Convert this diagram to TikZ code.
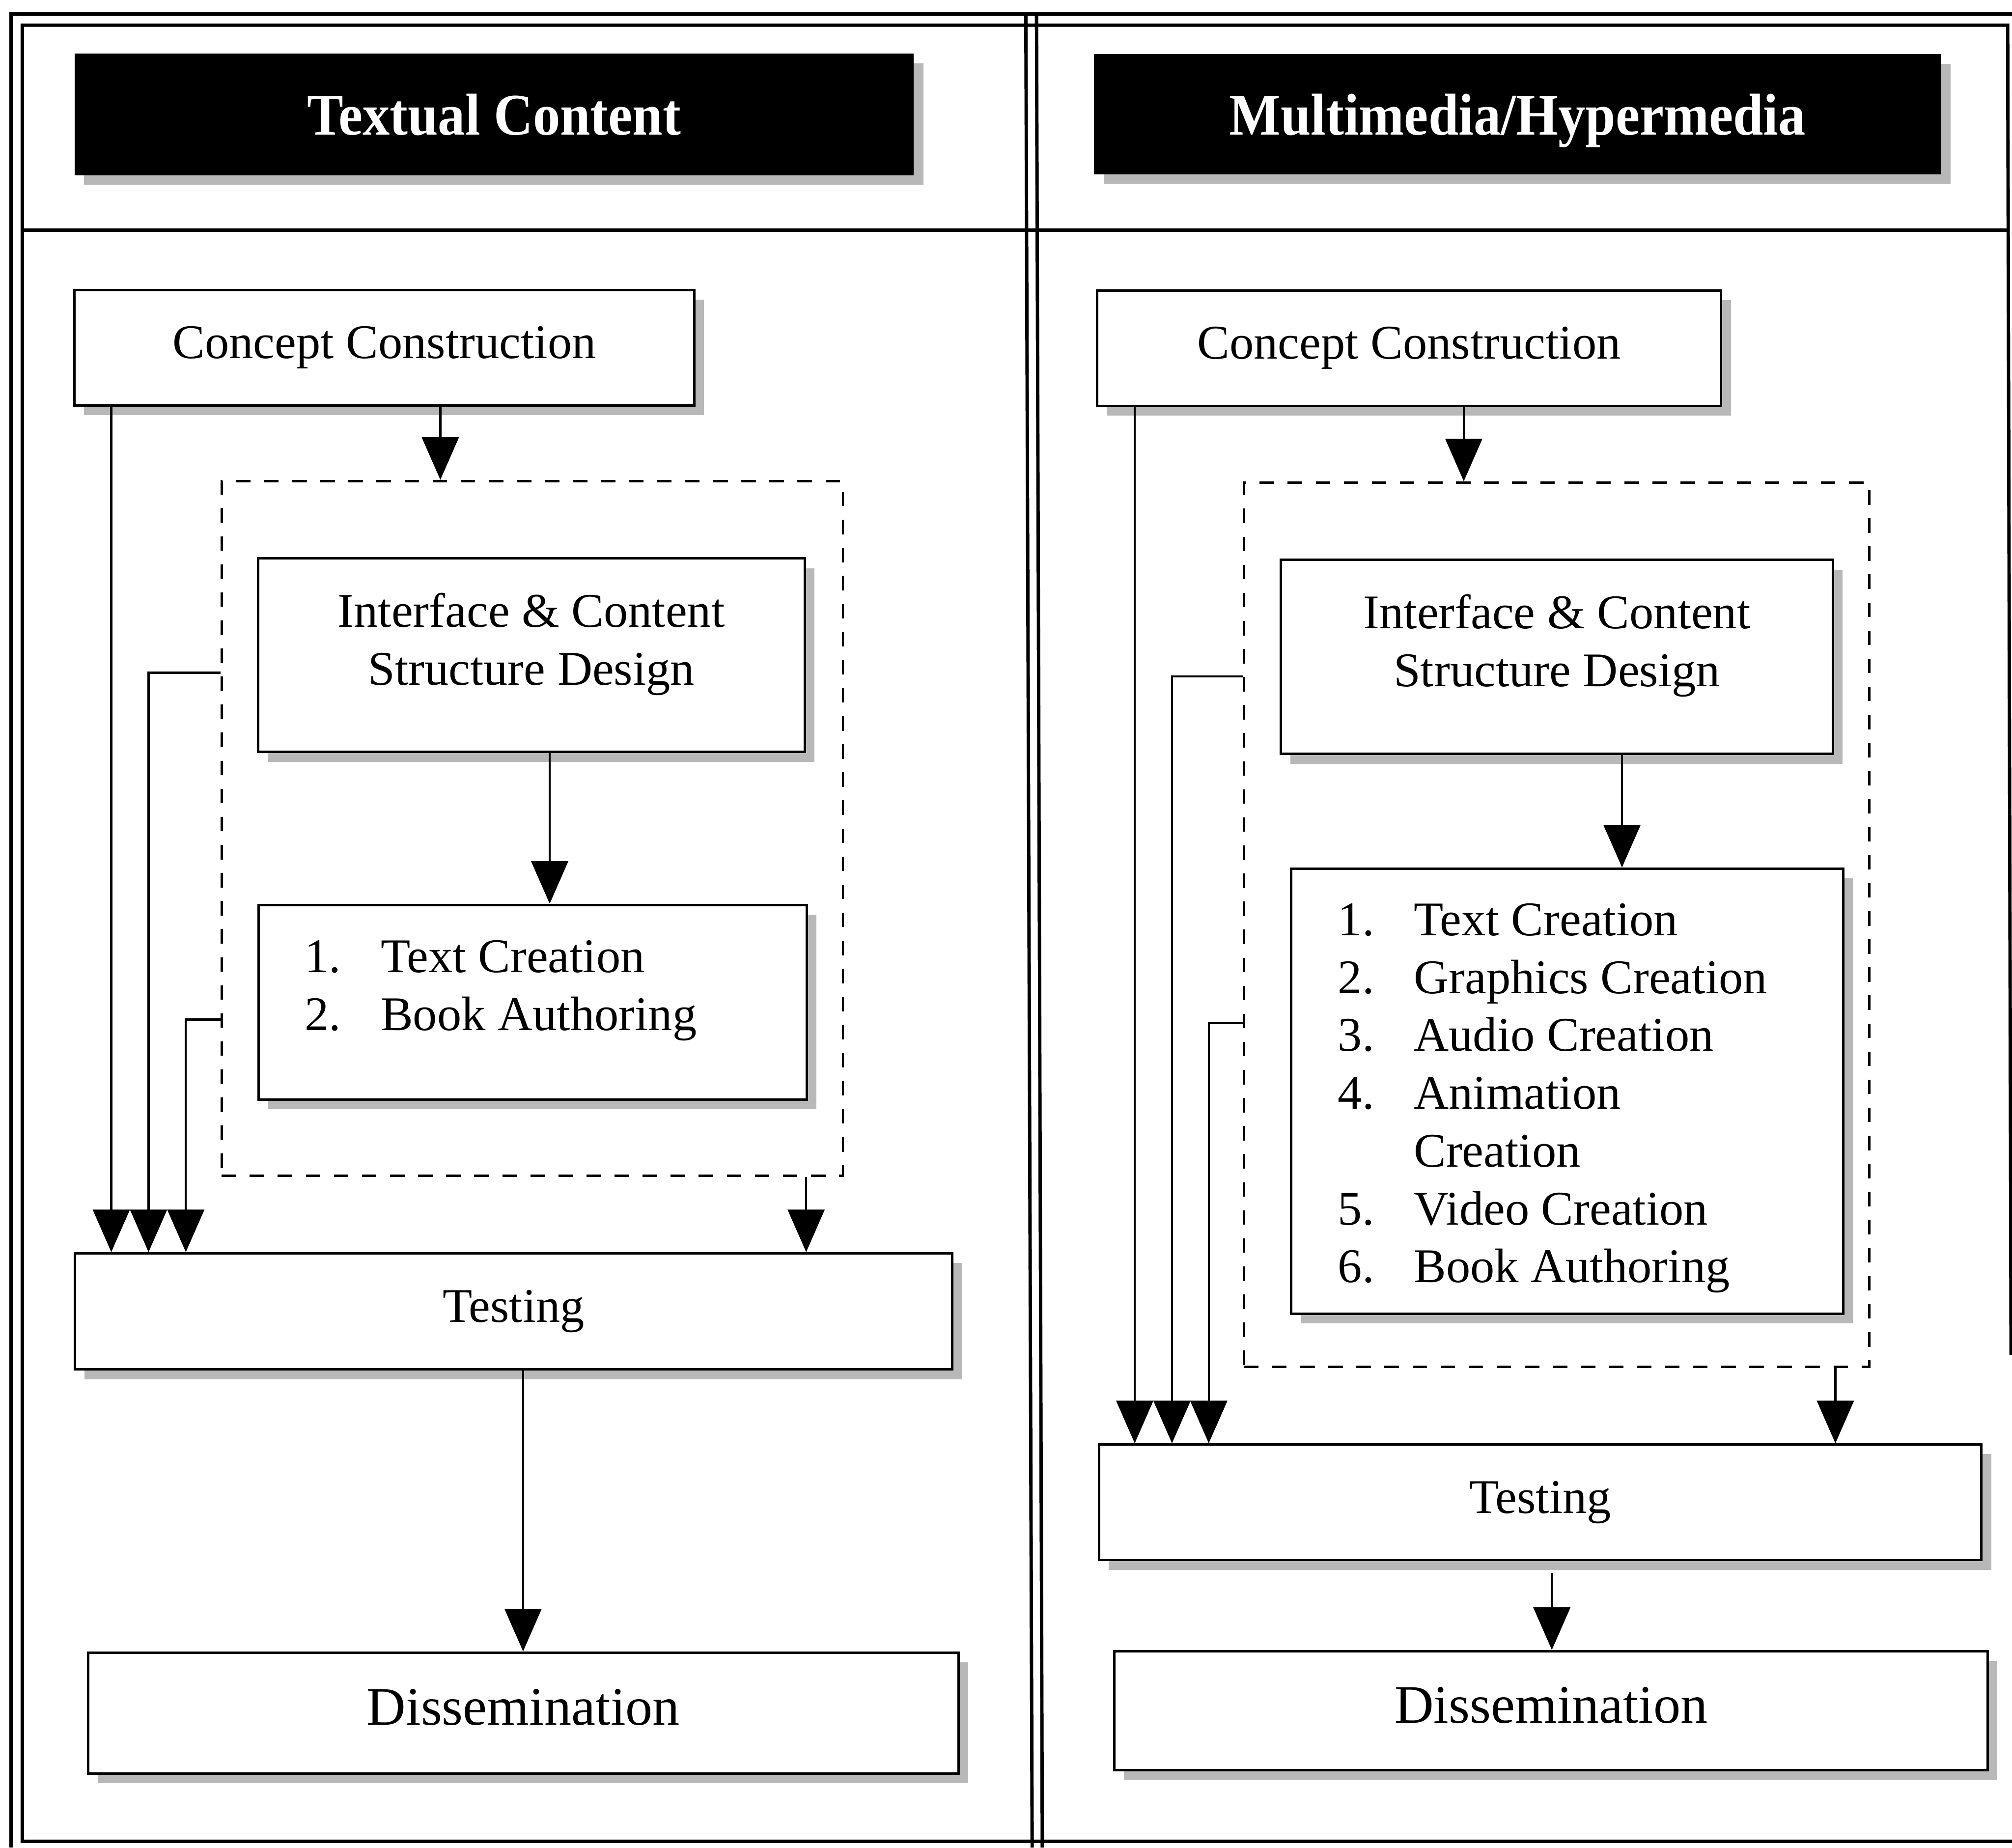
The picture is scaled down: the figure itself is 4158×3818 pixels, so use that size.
\documentclass[tikz,border=0pt]{standalone}
\usepackage{fontspec}
\setmainfont{Liberation Serif}
\newfontfamily\hdrfont{Liberation Serif}[FakeStretch=0.92]
\usetikzlibrary{arrows.meta,shadows}
\tikzset{
  shad/.style={drop shadow={shadow xshift=2pt,shadow yshift=-2pt,fill=black!28,opacity=1}},
  box/.style={shad,draw,line width=0.5pt,fill=white,inner sep=0pt,
    text height=7pt,text depth=2.5pt,font=\fontsize{10}{12}\selectfont},
  bigbox/.style={box,text height=7.8pt,text depth=2.8pt,font=\fontsize{11.2}{13}\selectfont},
  hdrbox/.style={shad,fill=black,text=white,inner sep=0pt,
    text height=8.5pt,text depth=0pt,font=\hdrfont\bfseries\fontsize{12.2}{14}\selectfont},
  dbox/.style={draw,line width=0.5pt,dash pattern=on 3pt off 2.8pt,inner sep=0pt},
  txt/.style={inner sep=0pt,font=\fontsize{10}{12}\selectfont},
  conn/.style={line width=0.45pt},
  arr/.style={conn,-{Triangle[length=8.8pt,width=7.6pt]}},
  frameline/.style={line width=0.7pt}
}
\begin{document}
\begin{tikzpicture}[x=0.1pt,y=-0.1pt]
\useasboundingbox (0,0) rectangle (4158,3818);
% frame
\draw[frameline] (23,3818) -- (23,29) -- (4158,29);
\draw[frameline] (4158,3805) -- (46,3805) -- (46,52) -- (4149,52) -- (4156,2800);
\draw[frameline] (46,476) -- (4150,476);
\draw[frameline] (2120,29) -- (2133,3818);
\draw[frameline] (2142,29) -- (2154,3818);
% headers
\node[hdrbox,minimum width=173.4pt,minimum height=25.1pt] (hdr1) at (1021,236.5) {Textual Content};
\node[hdrbox,minimum width=175pt,minimum height=24.8pt] (hdr2) at (3136,236) {Multimedia/Hypermedia};
% left column
\node[box,minimum width=128.1pt,minimum height=23.9pt] (cc1) at (794.5,718.5) {Concept Construction};
\node[dbox,minimum width=128.4pt,minimum height=143.6pt] (dash1) at (1100,1712) {};
\node[box,minimum width=113pt,minimum height=40pt] (icsd1) at (1098,1354) {};
\node[txt,anchor=base] (icsd1a) at (1098,1296) {Interface \& Content};
\node[txt,anchor=base] (icsd1b) at (1098,1416) {Structure Design};
\node[box,minimum width=113.3pt,minimum height=40.2pt] (tc1) at (1100.5,2071) {};
\node[txt,anchor=base west] (tc1n1) at (628,2009) {1.};
\node[txt,anchor=base west] (tc1t1) at (785,2009) {Text Creation};
\node[txt,anchor=base west] (tc1n2) at (628,2129) {2.};
\node[txt,anchor=base west] (tc1t2) at (785,2129) {Book Authoring};
\node[box,minimum width=181.3pt,minimum height=24pt] (tst1) at (1061.5,2710) {Testing};
\node[bigbox,minimum width=179.9pt,minimum height=25pt] (dis1) at (1081.5,3540) {Dissemination};
% right column
\node[box,minimum width=129pt,minimum height=23.9pt] (cc2) at (2912,719.5) {Concept Construction};
\node[dbox,minimum width=129.2pt,minimum height=182.8pt] (dash2) at (3217,1911) {};
\node[box,minimum width=114.1pt,minimum height=40.1pt] (icsd2) at (3217.5,1357.5) {};
\node[txt,anchor=base] (icsd2a) at (3217.5,1299) {Interface \& Content};
\node[txt,anchor=base] (icsd2b) at (3217.5,1419) {Structure Design};
\node[box,minimum width=114.1pt,minimum height=92pt] (tc2) at (3238.5,2255) {};
\node[txt,anchor=base west] (tc2n1) at (2763,1933) {1.};
\node[txt,anchor=base west] (tc2t1) at (2920,1933) {Text Creation};
\node[txt,anchor=base west] (tc2n2) at (2763,2053) {2.};
\node[txt,anchor=base west] (tc2t2) at (2920,2053) {Graphics Creation};
\node[txt,anchor=base west] (tc2n3) at (2763,2172) {3.};
\node[txt,anchor=base west] (tc2t3) at (2920,2172) {Audio Creation};
\node[txt,anchor=base west] (tc2n4) at (2763,2292) {4.};
\node[txt,anchor=base west] (tc2t4) at (2920,2292) {Animation};
\node[txt,anchor=base west] (tc2t4b) at (2920,2411) {Creation};
\node[txt,anchor=base west] (tc2n5) at (2763,2531) {5.};
\node[txt,anchor=base west] (tc2t5) at (2920,2531) {Video Creation};
\node[txt,anchor=base west] (tc2n6) at (2763,2650) {6.};
\node[txt,anchor=base west] (tc2t6) at (2920,2650) {Book Authoring};
\node[box,minimum width=182.4pt,minimum height=23.9pt] (tst2) at (3183,3104.5) {Testing};
\node[bigbox,minimum width=180.5pt,minimum height=24.6pt] (dis2) at (3205.5,3535) {Dissemination};
% column coordinates
\coordinate (L1) at (230,0);
\coordinate (L2) at (307,0);
\coordinate (L3) at (384,0);
\coordinate (La) at (910,0);
\coordinate (Lb) at (1136,0);
\coordinate (Lc) at (1666,0);
\coordinate (Ld) at (1081,0);
\coordinate (Ly2) at (0,1390);
\coordinate (Ly3) at (0,2107);
\coordinate (R1) at (2345,0);
\coordinate (R2) at (2422,0);
\coordinate (R3) at (2498,0);
\coordinate (Ra) at (3025,0);
\coordinate (Rb) at (3352,0);
\coordinate (Rc) at (3793,0);
\coordinate (Rd) at (3207,0);
\coordinate (Ry2) at (0,1398);
\coordinate (Ry3) at (0,2114);
% left connectors
\draw[arr] (cc1.south -| La) -- (dash1.north -| La);
\draw[arr] (cc1.south -| L1) -- (tst1.north -| L1);
\draw[arr] (dash1.west |- Ly2) -| (tst1.north -| L2);
\draw[arr] (dash1.west |- Ly3) -| (tst1.north -| L3);
\draw[arr] (icsd1.south -| Lb) -- (tc1.north -| Lb);
\draw[arr] (dash1.south -| Lc) -- (tst1.north -| Lc);
\draw[arr] (tst1.south -| Ld) -- (dis1.north -| Ld);
% right connectors
\draw[arr] (cc2.south -| Ra) -- (dash2.north -| Ra);
\draw[arr] (cc2.south -| R1) -- (tst2.north -| R1);
\draw[arr] (dash2.west |- Ry2) -| (tst2.north -| R2);
\draw[arr] (dash2.west |- Ry3) -| (tst2.north -| R3);
\draw[arr] (icsd2.south -| Rb) -- (tc2.north -| Rb);
\draw[arr] (dash2.south -| Rc) -- (tst2.north -| Rc);
\draw[arr,shorten <=2.4pt] (tst2.south -| Rd) -- (dis2.north -| Rd);
\end{tikzpicture}
\end{document}
